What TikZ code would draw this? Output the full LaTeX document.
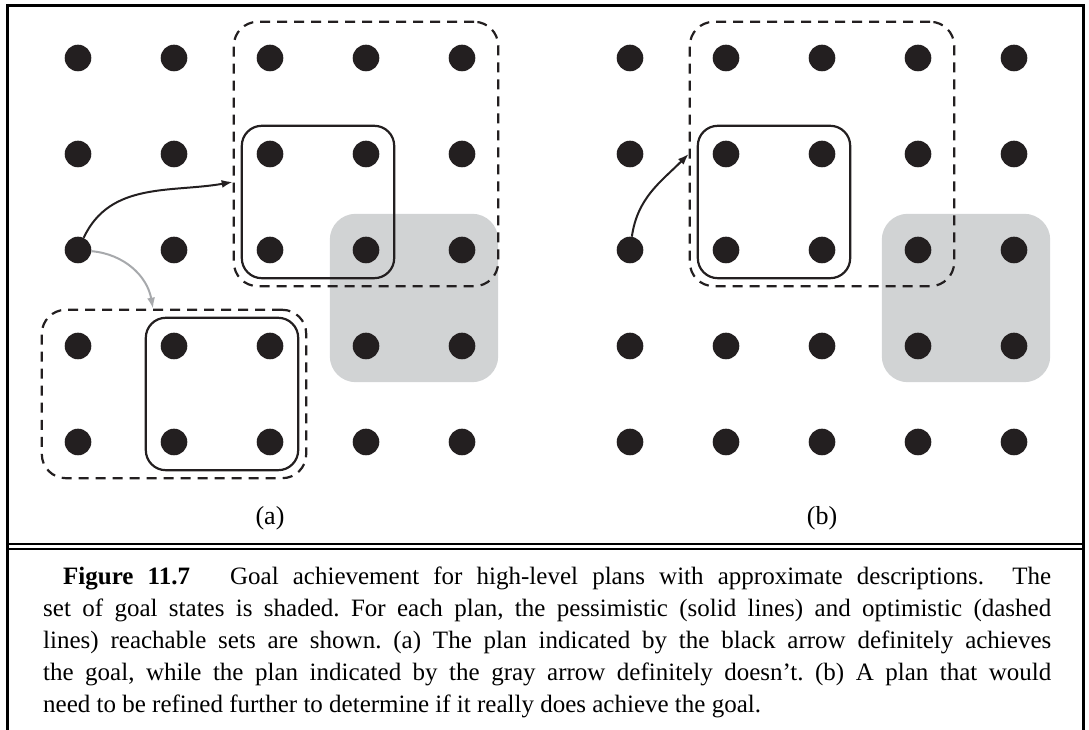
\documentclass[tikz,border=0pt]{standalone}
\usepackage{fontspec}
\setmainfont{Liberation Serif}
\usetikzlibrary{positioning, arrows.meta, fit, backgrounds}
\definecolor{dotblack}{RGB}{35,31,32}
\definecolor{goalgray}{RGB}{209,211,212}
\definecolor{arrowgray}{RGB}{167,169,172}

\begin{document}
\begin{tikzpicture}[x=1pt, y=1pt,
        dot/.style={circle, fill=dotblack, minimum size=26.6pt, inner sep=0pt},
        pessim/.style={rectangle, draw=dotblack, line width=2.2pt,
            rounded corners=20pt, inner sep=14.7pt},
        optim/.style={rectangle, draw=dotblack, line width=2.2pt,
            dash pattern=on 10pt off 7pt, rounded corners=24pt, inner sep=22.7pt},
        goal/.style={rectangle, fill=goalgray, rounded corners=26pt, inner sep=22.7pt},
        plan/.style={line width=2pt, -{Latex[length=11pt, width=8pt]}},
        frameline/.style={line width=3pt}]
        \useasboundingbox (0,0) rectangle (1089,730);
        % state grids
        \foreach \r in {1,...,5}
            \foreach \c in {1,...,5} {
                \node[dot] (a\r\c) at ({78+96*(\c-1)}, {672-96*(\r-1)}) {};
                \node[dot] (b\r\c) at ({630+96*(\c-1)}, {672-96*(\r-1)}) {};
            }
        % goal states
        \begin{scope}[on background layer]
            \node[goal, fit=(a34)(a45)] (goalA) {};
            \node[goal, fit=(b34)(b45)] (goalB) {};
        \end{scope}
        % reachable sets
        \node[optim, fit=(a13)(a35)] (optA) {};
        \node[pessim, fit=(a23)(a34)] (pesA) {};
        \node[optim, fit=(a41)(a53)] (optLow) {};
        \node[pessim, fit=(a42)(a53)] (pesLow) {};
        \node[optim, fit=(b12)(b34)] (optB) {};
        \node[pessim, fit=(b22)(b33)] (pesB) {};
        % plans
        \coordinate (tipA) at ([yshift=-28pt]optA.west);
        \coordinate (tipLow) at ([xshift=-21pt]optLow.north);
        \draw[plan, dotblack] (a31) to[out=65, in=190] (tipA);
        \draw[plan, arrowgray] (a31) to[out=-5, in=100] (tipLow);
        \draw[plan, dotblack] (b31) to[out=82, in=225] (optB.west);
        \node[font=\fontsize{26}{30}\selectfont] (labA) at (270,212) {(a)};
        \node[font=\fontsize{26}{30}\selectfont] (labB) at (822,212) {(b)};
        % frame
        \draw[frameline] (7,0) -- (7,724) -- (1083,724) -- (1083,0);
        \draw[line width=2pt] (7,185.5) -- (1083,185.5);
        \draw[line width=2pt] (7,180.5) -- (1083,180.5);
        \node[anchor=north west, align=left, inner sep=0pt,
            font=\fontsize{25}{32}\selectfont\frenchspacing] (caption) at (43,163)
            {\hspace*{20pt}\makebox[988pt][s]{\textbf{Figure 11.7}\hspace{40pt}Goal achievement for high-level plans with approximate descriptions.\ \ The}\\
            \makebox[1008pt][s]{set of goal states is shaded. For each plan, the pessimistic (solid lines) and optimistic (dashed}\\
            \makebox[1008pt][s]{lines) reachable sets are shown. (a) The plan indicated by the black arrow definitely achieves}\\
            \makebox[1008pt][s]{the goal, while the plan indicated by the gray arrow definitely doesn't. (b) A plan that would}\\
            need to be refined further to determine if it really does achieve the goal.};
    \end{tikzpicture}
\end{document}
